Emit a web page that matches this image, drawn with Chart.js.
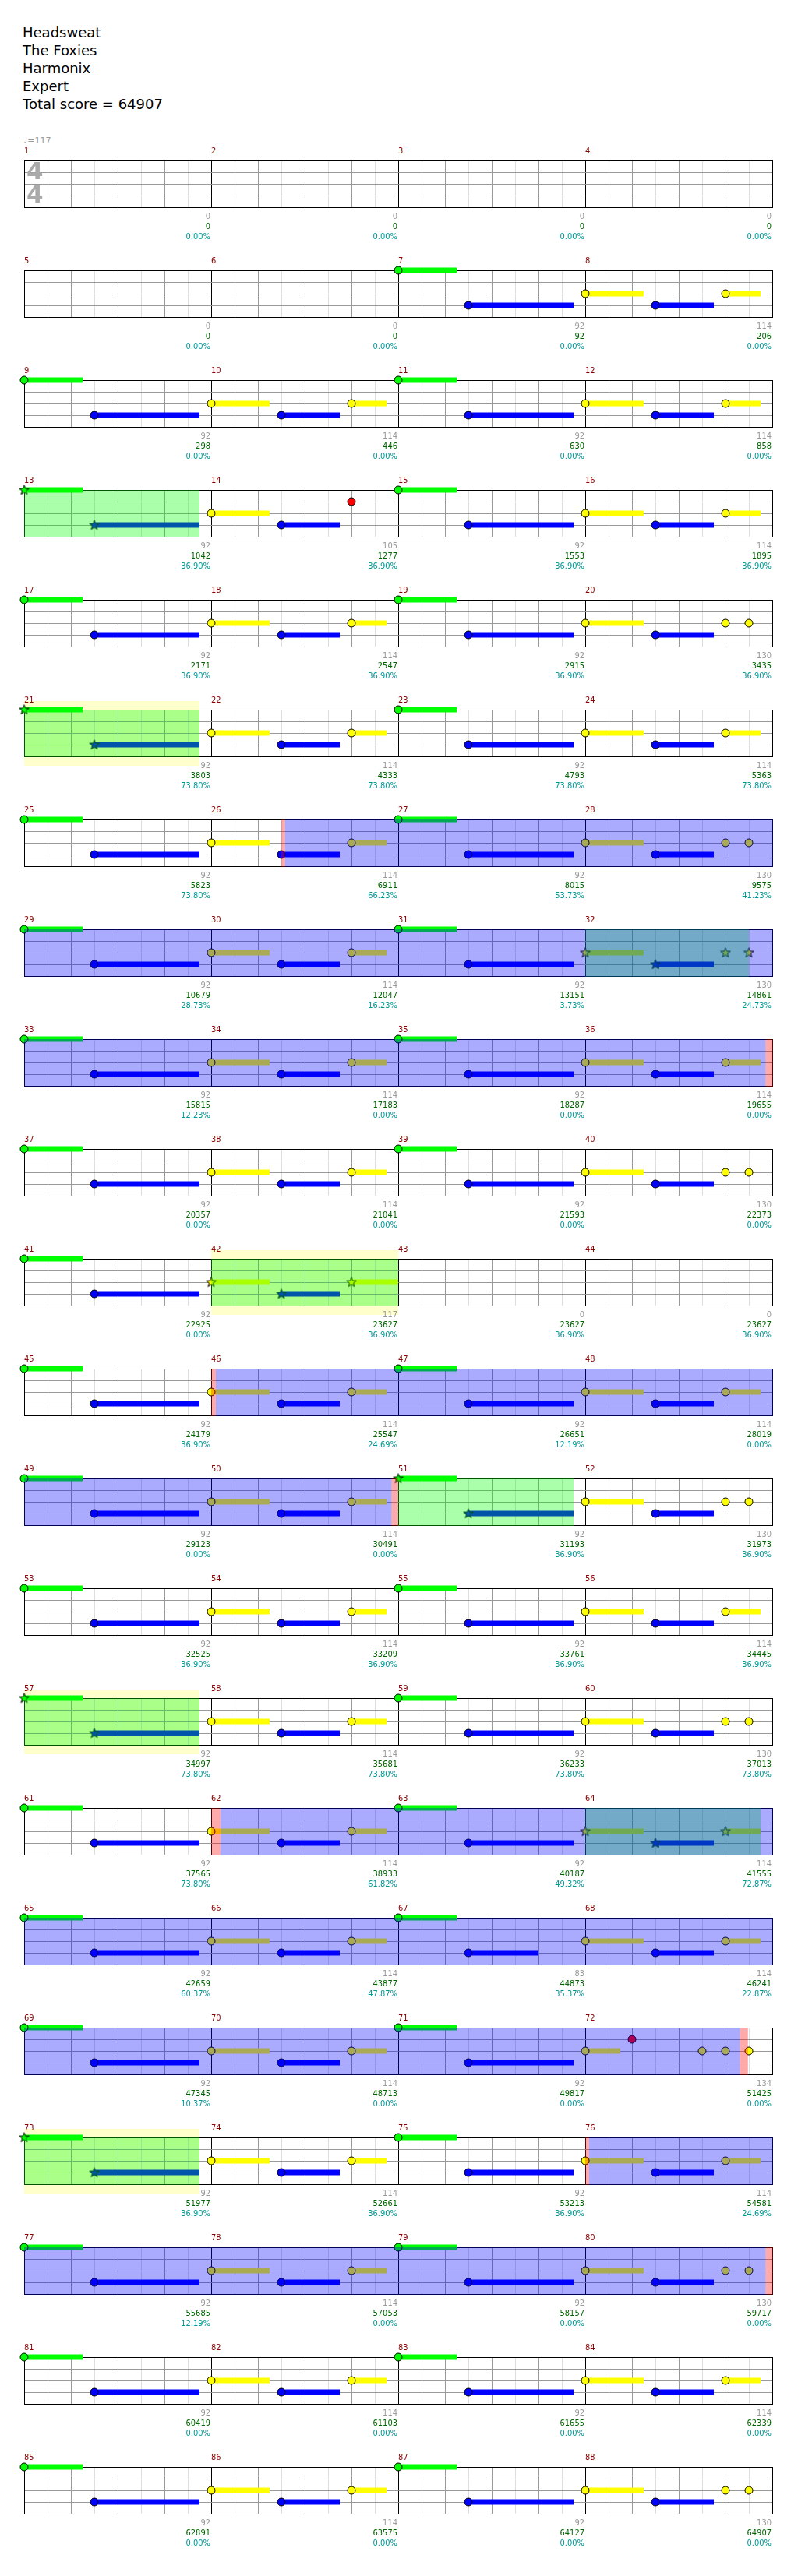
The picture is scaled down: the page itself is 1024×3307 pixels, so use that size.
<!DOCTYPE html>
<html>
<head>
<meta charset="utf-8">
<script src="https://cdn.jsdelivr.net/npm/chart.js@4.4.1/dist/chart.umd.min.js"></script>
<style>
  body { margin: 0; background: #fff; }
  #page { position: relative; width: 1024px; height: 3307px; overflow: hidden; }
  #info { position: absolute; left: 29px; top: 30px; font: 18px "DejaVu Sans", sans-serif; line-height: 23px; color: #000; }
  #tempo { position: absolute; left: 30px; top: 174px; font: 11px "DejaVu Sans", sans-serif; line-height: 14px; color: #999; }
  canvas { position: absolute; left: 0; }
</style>
</head>
<body>
<div id="page">
  <div id="info">Headsweat<br>The Foxies<br>Harmonix<br>Expert<br>Total score = 64907</div>
  <div id="tempo">&#9833;=117</div>
</div>
<script>
'use strict';

// lanes, top to bottom
const laneOf = { G: 4, R: 3, Y: 2, B: 1, O: 0 };
const laneColor = { G: '#00ff00', R: '#ff0000', Y: '#ffff00', B: '#0000ff', O: '#ff8000' };

// measure contents: [beat in measure, lane, sustain length in beats]
const patA = [[0, 'G', 1.25], [1.5, 'B', 2.25]];
const patB = [[0, 'Y', 1.25], [1.5, 'B', 1.25], [3, 'Y', 0.75]];
const patC = [[0, 'Y', 1.25], [1.5, 'B', 1.25], [3, 'Y', 0], [3.5, 'Y', 0]];
const patD = [[0, 'Y', 1.25], [1.5, 'B', 1.25], [3, 'R', 0]];
const patE = [[0, 'G', 1.25], [1.5, 'B', 1.5]];
const patF = [[0, 'Y', 0.75], [1, 'R', 0], [2.5, 'Y', 0], [3, 'Y', 0], [3.5, 'Y', 0]];
const patG = [[0, 'Y', 1.25], [1.5, 'B', 1.25], [3, 'Y', 1]];
const patterns = { A: patA, B: patB, C: patC, D: patD, E: patE, F: patF, G: patG };

// one string per row, one letter per measure ('-' = empty)
const measureRows = [
  '----', '--AB', 'ABAB', 'ADAB', 'ABAC', 'ABAB', 'ABAC', 'ABAC', 'ABAB', 'ABAC', 'AG--',
  'ABAB', 'ABAC', 'ABAB', 'ABAC', 'ABAB', 'ABEB', 'ABAF', 'ABAB', 'ABAC', 'ABAB', 'ABAC'
];

// spans in beats from the start of the song
const starPhrases = [[48, 51.75], [80, 83.75], [124, 127.5], [164, 168], [200, 203.75], [224, 227.75], [252, 255.75], [288, 291.75]];
const unisonBands = [[80, 83.75], [164, 168], [224, 227.75], [288, 291.75]];
const activations = [[101.58, 143.86], [180.1, 199.86], [244.2, 287.31], [300.08, 319.86]];
const squeezeMarks = [[101.5, 101.58], [143.86, 144], [180, 180.1], [199.86, 200], [244, 244.2], [287.31, 287.48], [300, 300.08], [319.86, 320]];

// per measure (one row of four per line): measure score, running total, overdrive meter
const measureScore = [
  0, 0, 0, 0,
  0, 0, 92, 114,
  92, 114, 92, 114,
  92, 105, 92, 114,
  92, 114, 92, 130,
  92, 114, 92, 114,
  92, 114, 92, 130,
  92, 114, 92, 130,
  92, 114, 92, 114,
  92, 114, 92, 130,
  92, 117, 0, 0,
  92, 114, 92, 114,
  92, 114, 92, 130,
  92, 114, 92, 114,
  92, 114, 92, 130,
  92, 114, 92, 114,
  92, 114, 83, 114,
  92, 114, 92, 134,
  92, 114, 92, 114,
  92, 114, 92, 130,
  92, 114, 92, 114,
  92, 114, 92, 130
];
const totalScore = [
  0, 0, 0, 0,
  0, 0, 92, 206,
  298, 446, 630, 858,
  1042, 1277, 1553, 1895,
  2171, 2547, 2915, 3435,
  3803, 4333, 4793, 5363,
  5823, 6911, 8015, 9575,
  10679, 12047, 13151, 14861,
  15815, 17183, 18287, 19655,
  20357, 21041, 21593, 22373,
  22925, 23627, 23627, 23627,
  24179, 25547, 26651, 28019,
  29123, 30491, 31193, 31973,
  32525, 33209, 33761, 34445,
  34997, 35681, 36233, 37013,
  37565, 38933, 40187, 41555,
  42659, 43877, 44873, 46241,
  47345, 48713, 49817, 51425,
  51977, 52661, 53213, 54581,
  55685, 57053, 58157, 59717,
  60419, 61103, 61655, 62339,
  62891, 63575, 64127, 64907
];
const meterPct = [
  0, 0, 0, 0,
  0, 0, 0, 0,
  0, 0, 0, 0,
  36.90, 36.90, 36.90, 36.90,
  36.90, 36.90, 36.90, 36.90,
  73.80, 73.80, 73.80, 73.80,
  73.80, 66.23, 53.73, 41.23,
  28.73, 16.23, 3.73, 24.73,
  12.23, 0, 0, 0,
  0, 0, 0, 0,
  0, 36.90, 36.90, 36.90,
  36.90, 24.69, 12.19, 0,
  0, 0, 36.90, 36.90,
  36.90, 36.90, 36.90, 36.90,
  73.80, 73.80, 73.80, 73.80,
  73.80, 61.82, 49.32, 72.87,
  60.37, 47.87, 35.37, 22.87,
  10.37, 0, 0, 0,
  36.90, 36.90, 36.90, 24.69,
  12.19, 0, 0, 0,
  0, 0, 0, 0,
  0, 0, 0, 0
];

const ROW_TOP = 206, ROW_PITCH = 141, PAD_TOP = 33;
const LABEL_FONT = '11px "DejaVu Sans Condensed", "DejaVu Sans", sans-serif';

function makeStar(fill) {
  const c = document.createElement('canvas');
  c.width = 15; c.height = 15;
  const g = c.getContext('2d');
  g.beginPath();
  for (let i = 0; i < 10; i++) {
    const r = i % 2 ? 2.7 : 6.6;
    const a = -Math.PI / 2 + i * Math.PI / 5;
    g.lineTo(7.5 + r * Math.cos(a), 7.8 + r * Math.sin(a));
  }
  g.closePath();
  g.fillStyle = fill;
  g.fill();
  g.strokeStyle = '#000';
  g.lineWidth = 1;
  g.stroke();
  return c;
}
const starImg = {};
Object.keys(laneColor).forEach(k => { starImg[k] = makeStar(laneColor[k]); });

// all notes, absolute beats
const notes = [];
measureRows.join('').split('').forEach((code, m) => {
  const pat = patterns[code];
  if (!pat) return;
  pat.forEach(([b, lane, sus]) => {
    const t = m * 4 + b;
    notes.push({ t: t, lane: lane, sus: sus, star: starPhrases.some(([s, e]) => t >= s && t <= e) });
  });
});

function fillSpans(chart, spans, color, extra) {
  const x = chart.scales.x, a = chart.chartArea, ctx = chart.ctx;
  const lo = x.min, hi = x.max;
  ctx.save();
  ctx.fillStyle = color;
  spans.forEach(([s, e]) => {
    const s2 = Math.max(s, lo), e2 = Math.min(e, hi);
    if (e2 <= s2) return;
    const x1 = x.getPixelForValue(s2);
    let x2 = x.getPixelForValue(e2);
    if (e2 === hi) x2 += 1;
    ctx.fillRect(x1, a.top - extra, x2 - x1, a.bottom - a.top + 1 + 2 * extra);
  });
  ctx.restore();
}

function rowPlugin(r) {
  return {
    id: 'row' + r,
    beforeDraw(chart) {
      fillSpans(chart, unisonBands, '#ffffcc', 11);
    },
    afterDatasetsDraw(chart) {
      fillSpans(chart, starPhrases, 'rgba(0,255,0,0.333)', 0);
      fillSpans(chart, activations, 'rgba(0,0,255,0.333)', 0);
      fillSpans(chart, squeezeMarks, 'rgba(255,0,0,0.333)', 0);
    },
    afterDraw(chart) {
      const ctx = chart.ctx, x = chart.scales.x, top = chart.chartArea.top;
      ctx.save();
      ctx.font = LABEL_FONT;
      ctx.textBaseline = 'middle';
      for (let i = 0; i < 4; i++) {
        const m = r * 4 + i;
        const xs = Math.round(x.getPixelForValue(m * 4));
        const xe = Math.round(x.getPixelForValue(m * 4 + 4));
        ctx.textAlign = 'left';
        ctx.fillStyle = '#8b0000';
        ctx.fillText(String(m + 1), xs, top - 12);
        ctx.textAlign = 'right';
        ctx.fillStyle = '#999999';
        ctx.fillText(String(measureScore[m]), xe - 1, top + 72);
        ctx.fillStyle = '#006400';
        ctx.fillText(String(totalScore[m]), xe - 1, top + 85);
        ctx.fillStyle = '#009999';
        ctx.fillText(meterPct[m].toFixed(2) + '%', xe - 1, top + 98);
      }
      if (r === 0) {
        ctx.font = 'bold 31px "DejaVu Sans", sans-serif';
        ctx.fillStyle = '#aaaaaa';
        ctx.textAlign = 'left';
        ctx.fillText('4', chart.chartArea.left + 3, top + 16);
        ctx.fillText('4', chart.chartArea.left + 3, top + 46);
      }
      ctx.restore();
    }
  };
}

function gridColorX(v) {
  if (v % 4 === 0) return '#000000';
  if (v % 1 === 0) return '#999999';
  return '#dddddd';
}

const page = document.getElementById('page');
measureRows.forEach((row, r) => {
  const lo = r * 16, hi = lo + 16;
  const canvas = document.createElement('canvas');
  canvas.width = 1024;
  canvas.height = 141;
  canvas.style.top = (ROW_TOP + r * ROW_PITCH - PAD_TOP) + 'px';
  page.appendChild(canvas);

  const rowNotes = notes.filter(n => n.t >= lo && n.t < hi);
  const datasets = [{
    type: 'scatter',
    data: rowNotes.map(n => ({ x: n.t, y: laneOf[n.lane] })),
    pointStyle: rowNotes.map(n => n.star ? starImg[n.lane] : 'circle'),
    pointRadius: 5,
    pointBackgroundColor: rowNotes.map(n => laneColor[n.lane]),
    pointBorderColor: '#000000',
    pointBorderWidth: 1,
    clip: false,
    order: 1
  }];
  rowNotes.filter(n => n.sus > 0).forEach(n => {
    datasets.push({
      type: 'line',
      data: [{ x: n.t, y: laneOf[n.lane] }, { x: n.t + n.sus, y: laneOf[n.lane] }],
      borderColor: laneColor[n.lane],
      borderWidth: 7,
      borderCapStyle: 'butt',
      pointRadius: 0,
      clip: false,
      order: 2
    });
  });

  new Chart(canvas, {
    type: 'scatter',
    data: { datasets: datasets },
    options: {
      responsive: false,
      animation: false,
      devicePixelRatio: 1,
      events: [],
      layout: { padding: { left: 31, right: 33, top: PAD_TOP, bottom: 48 } },
      plugins: { legend: { display: false }, tooltip: { enabled: false } },
      scales: {
        x: {
          type: 'linear', min: lo, max: hi,
          ticks: { display: false, stepSize: 0.5, autoSkip: false, maxTicksLimit: 100 },
          grid: { drawTicks: false, color: c => gridColorX(c.tick.value - lo) },
          border: { color: '#000000' }
        },
        y: {
          type: 'linear', min: 0, max: 4,
          ticks: { display: false, stepSize: 1 },
          grid: { drawTicks: false, color: c => (c.tick.value === 0 || c.tick.value === 4) ? '#000000' : '#999999' },
          border: { color: '#000000' }
        }
      }
    },
    plugins: [rowPlugin(r)]
  });
});
</script>
</body>
</html>
